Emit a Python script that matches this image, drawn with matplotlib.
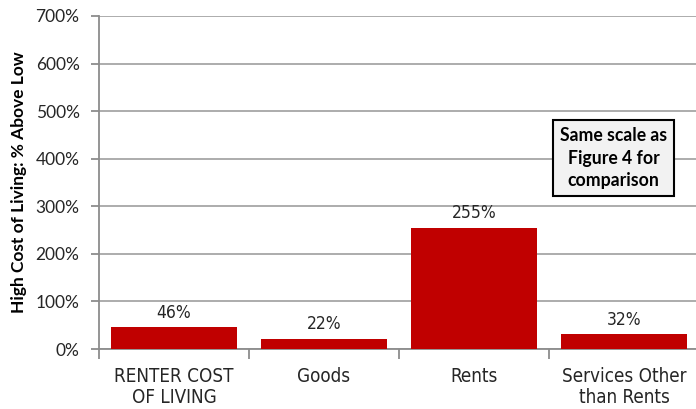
import matplotlib
matplotlib.use("Agg")
import matplotlib.pyplot as plt
from matplotlib.ticker import FuncFormatter

# high vs low cost-of-living areas, percent above low
categories = ["RENTER COST\nOF LIVING", "Goods", "Rents", "Services Other\nthan Rents"]
pct_above_low = [46, 22, 255, 32]
y_ticks = [0, 100, 200, 300, 400, 500, 600, 700]

bar_red = "#C00000"
grid_grey = "#A6A6A6"
narrow = ["DejaVu Sans"]
body = ["Lato", "DejaVu Sans"]

fig = plt.figure(figsize=(6.96, 4.09), dpi=100)
ax = fig.add_axes([99 / 696, 1 - 349 / 409, 600 / 696, 333 / 409])

x = list(range(len(categories)))
bars = ax.bar(x, pct_above_low, width=0.84, color=bar_red, zorder=3)

for xi, v in zip(x, pct_above_low):
    ax.text(xi, v + 11, f"{v}%", ha="center", va="bottom", fontstretch="condensed",
            fontsize=12.5, family=narrow, color="#262626")

ax.set_xlim(-0.5, len(categories) - 0.5)
ax.set_ylim(0, 700)
ax.set_yticks(y_ticks)
ax.yaxis.set_major_formatter(FuncFormatter(lambda v, p: f"{v:.0f}%"))
ax.set_xticks(x)
ax.set_xticklabels(categories, family=narrow, fontsize=13.5, color="#262626",
                   fontstretch="condensed", linespacing=1.1)
ax.set_xticks([i - 0.5 for i in range(len(categories) + 1)], minor=True)
for lab in ax.get_yticklabels():
    lab.set_family(body)
    lab.set_fontsize(12.5)
    lab.set_color("#262626")

ax.yaxis.grid(True, color=grid_grey, linewidth=1.3, zorder=0)
ax.set_axisbelow(True)
for side in ["top", "right"]:
    ax.spines[side].set_visible(False)
ax.spines["left"].set_color("#8C8C8C")
ax.spines["bottom"].set_color("#8C8C8C")
ax.spines["left"].set_linewidth(1.3)
ax.spines["bottom"].set_linewidth(1.3)
ax.tick_params(axis="y", length=6, width=1.3, color="#8C8C8C", pad=8)
ax.tick_params(axis="x", which="major", length=0, pad=13)
ax.tick_params(axis="x", which="minor", length=7, width=1.3, color="#8C8C8C")

ax.set_ylabel("High Cost of Living: % Above Low", family=body, fontweight="bold",
              fontsize=12.5, color="#000000", labelpad=6)

ax.text(2.93, 401, "Same scale as\nFigure 4 for\ncomparison", ha="center", va="center",
        fontsize=12.7, fontweight="bold", family=body, linespacing=1.4, zorder=5,
        bbox=dict(boxstyle="square,pad=0.4", facecolor="#F2F2F2",
                  edgecolor="#000000", linewidth=1.5))

fig.savefig("out.png", dpi=100)
